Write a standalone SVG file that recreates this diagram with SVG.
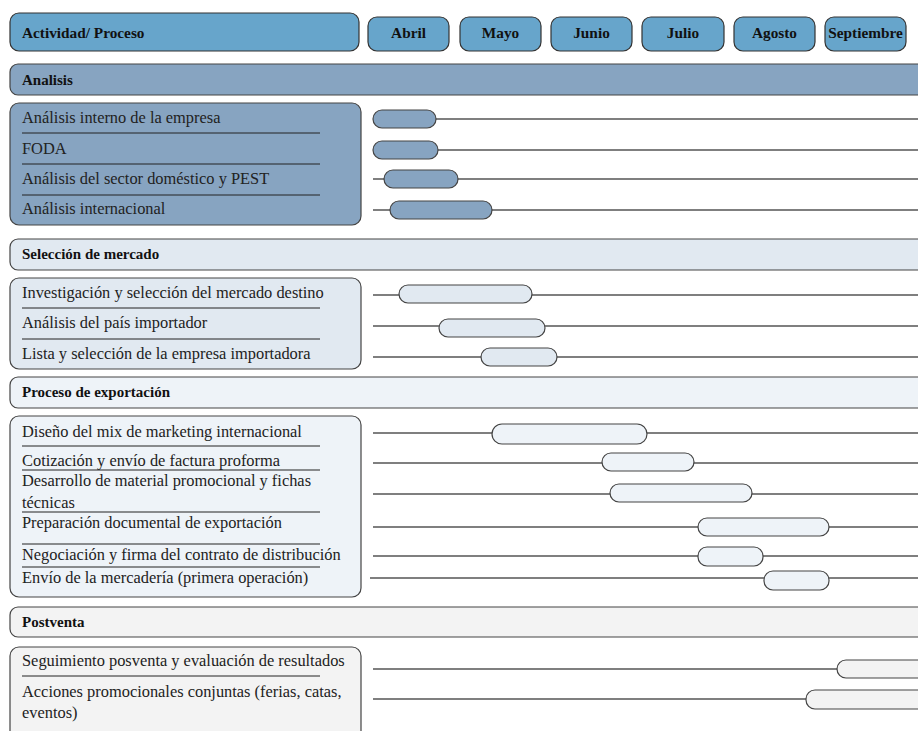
<svg xmlns="http://www.w3.org/2000/svg" width="918" height="731" viewBox="0 0 918 731">
<style>
.hdr{fill:#67a5cb;stroke:#333;stroke-width:1.2}
.b{font-weight:bold;font-size:15.3px;fill:#111}
.s{font-weight:bold;font-size:15px;fill:#111}
.t{font-size:16.4px;fill:#222}
.sec{stroke:#444;stroke-width:1.2}
.sep{stroke:#222;stroke-width:1}
.gl{stroke:#555;stroke-width:1.5;fill:none}
.bar{stroke:#444;stroke-width:1.2}
.c1{fill:#87a4c1}.c2{fill:#e1e9f1}.c3{fill:#eef3f8}.c4{fill:#f3f3f3}
</style>
<rect width="918" height="731" fill="#fff"/>
<g font-family="'Liberation Serif', 'Times New Roman', Tinos, 'DejaVu Serif', serif">
<g id="header">
<rect class="hdr" x="10" y="13" width="349" height="38" rx="9"/>
<text class="b" x="22" y="38">Actividad/ Proceso</text>
</g>
<g id="months" text-anchor="middle">
<g id="m-abril"><rect class="hdr" x="368" y="17" width="81" height="34" rx="9"/><text class="b" x="408.5" y="38">Abril</text></g>
<g id="m-mayo"><rect class="hdr" x="460" y="17" width="81" height="34" rx="9"/><text class="b" x="500.5" y="38">Mayo</text></g>
<g id="m-junio"><rect class="hdr" x="551" y="17" width="81" height="34" rx="9"/><text class="b" x="591.5" y="38">Junio</text></g>
<g id="m-julio"><rect class="hdr" x="642" y="17" width="82" height="34" rx="9"/><text class="b" x="683" y="38">Julio</text></g>
<g id="m-agosto"><rect class="hdr" x="734" y="17" width="81" height="34" rx="9"/><text class="b" x="774.5" y="38">Agosto</text></g>
<g id="m-septiembre"><rect class="hdr" x="825" y="17" width="81" height="34" rx="9"/><text class="b" x="865.5" y="38">Septiembre</text></g>
</g>

<g id="sec-analisis"><rect class="sec c1" x="10" y="64" width="940" height="31" rx="8"/><text class="s" x="22" y="85">Analisis</text></g>
<g id="box-analisis">
<rect class="sec c1" x="10" y="103" width="351" height="122" rx="9"/>
<text class="t" x="22" y="123">Análisis interno de la empresa</text>
<line class="sep" x1="22" y1="133" x2="320" y2="133"/>
<text class="t" x="22" y="154">FODA</text>
<line class="sep" x1="22" y1="164" x2="320" y2="164"/>
<text class="t" x="22" y="184">Análisis del sector doméstico y PEST</text>
<line class="sep" x1="22" y1="195" x2="320" y2="195"/>
<text class="t" x="22" y="214">Análisis internacional</text>
</g>

<g id="sec-seleccion"><rect class="sec c2" x="10" y="239" width="940" height="31" rx="8"/><text class="s" x="22" y="259">Selección de mercado</text></g>
<g id="box-seleccion">
<rect class="sec c2" x="10" y="278" width="351" height="91" rx="9"/>
<text class="t" x="22" y="298">Investigación y selección del mercado destino</text>
<line class="sep" x1="22" y1="308" x2="320" y2="308"/>
<text class="t" x="22" y="328">Análisis del país importador</text>
<line class="sep" x1="22" y1="339" x2="320" y2="339"/>
<text class="t" x="22" y="359">Lista y selección de la empresa importadora</text>
</g>

<g id="sec-proceso"><rect class="sec c3" x="10" y="377" width="940" height="31" rx="8"/><text class="s" x="22" y="397">Proceso de exportación</text></g>
<g id="box-proceso">
<rect class="sec c3" x="10" y="416" width="351" height="181" rx="9"/>
<text class="t" x="22" y="437">Diseño del mix de marketing internacional</text>
<line class="sep" x1="22" y1="446" x2="320" y2="446"/>
<text class="t" x="22" y="466">Cotización y envío de factura proforma</text>
<line class="sep" x1="22" y1="470" x2="320" y2="470"/>
<text class="t" x="22" y="486">Desarrollo de material promocional y fichas</text>
<text class="t" x="22" y="508">técnicas</text>
<line class="sep" x1="22" y1="512" x2="320" y2="512"/>
<text class="t" x="22" y="528">Preparación documental de exportación</text>
<line class="sep" x1="22" y1="544" x2="320" y2="544"/>
<text class="t" x="22" y="560">Negociación y firma del contrato de distribución</text>
<line class="sep" x1="22" y1="567" x2="320" y2="567"/>
<text class="t" x="22" y="583">Envío de la mercadería (primera operación)</text>
</g>

<g id="sec-postventa"><rect class="sec c4" x="10" y="607" width="940" height="30" rx="8"/><text class="s" x="22" y="627">Postventa</text></g>
<g id="box-postventa">
<rect class="sec c4" x="10" y="647" width="351" height="110" rx="9"/>
<text class="t" x="22" y="666">Seguimiento posventa y evaluación de resultados</text>
<line class="sep" x1="22" y1="676" x2="320" y2="676"/>
<text class="t" x="22" y="697">Acciones promocionales conjuntas (ferias, catas,</text>
<text class="t" x="22" y="718">eventos)</text>
</g>
</g>

<g id="connectors">
<line class="gl" x1="436" y1="119" x2="918" y2="119"/>
<line class="gl" x1="438" y1="150" x2="918" y2="150"/>
<line class="gl" x1="373" y1="179" x2="918" y2="179"/>
<line class="gl" x1="373" y1="210" x2="918" y2="210"/>
<line class="gl" x1="373" y1="295" x2="918" y2="295"/>
<line class="gl" x1="373" y1="326" x2="918" y2="326"/>
<line class="gl" x1="373" y1="357" x2="918" y2="357"/>
<line class="gl" x1="373" y1="433" x2="918" y2="433"/>
<line class="gl" x1="373" y1="463" x2="918" y2="463"/>
<line class="gl" x1="373" y1="494" x2="918" y2="494"/>
<line class="gl" x1="373" y1="527" x2="918" y2="527"/>
<line class="gl" x1="373" y1="556" x2="918" y2="556"/>
<line class="gl" x1="370" y1="578" x2="918" y2="578"/>
<line class="gl" x1="373" y1="669" x2="918" y2="669"/>
<line class="gl" x1="373" y1="699" x2="918" y2="699"/>
</g>

<g id="bars">
<rect class="bar c1" x="373" y="110" width="63" height="18" rx="9"/>
<rect class="bar c1" x="373" y="141" width="65" height="18" rx="9"/>
<rect class="bar c1" x="384" y="170" width="74" height="18" rx="9"/>
<rect class="bar c1" x="390" y="201" width="102" height="18" rx="9"/>
<rect class="bar c2" x="399" y="285" width="133" height="18" rx="9"/>
<rect class="bar c2" x="439" y="319" width="106" height="18" rx="9"/>
<rect class="bar c2" x="481" y="348" width="76" height="18" rx="9"/>
<rect class="bar c3" x="492" y="424" width="155" height="20" rx="10"/>
<rect class="bar c3" x="602" y="453" width="92" height="18" rx="9"/>
<rect class="bar c3" x="610" y="484" width="142" height="18" rx="9"/>
<rect class="bar c3" x="698" y="518" width="131" height="18" rx="9"/>
<rect class="bar c3" x="698" y="547" width="65" height="19" rx="9"/>
<rect class="bar c3" x="764" y="571" width="65" height="19" rx="9"/>
<rect class="bar c4" x="837" y="660" width="120" height="18" rx="9"/>
<rect class="bar c4" x="806" y="690" width="150" height="19" rx="9"/>
</g>
</svg>
